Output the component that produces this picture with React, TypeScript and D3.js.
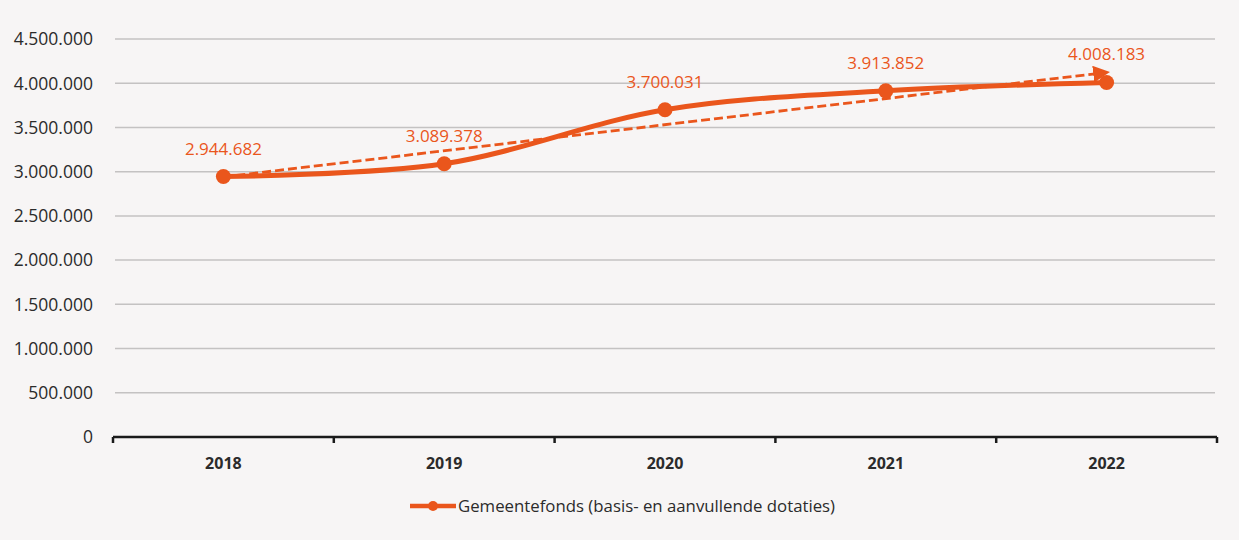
import React, { useRef, useEffect } from 'react'
import * as d3 from 'd3'

const years = ['2018', '2019', '2020', '2021', '2022']
const values = [2944682, 3089378, 3700031, 3913852, 4008183]
const yTicks = [0, 500000, 1000000, 1500000, 2000000, 2500000, 3000000, 3500000, 4000000, 4500000]
const seriesName = 'Gemeentefonds (basis- en aanvullende dotaties)'

const orange = '#EA561C'
const font = '"Open Sans", Lato, sans-serif'
const fmt = (v: number) => d3.format(',')(v).replace(/,/g, '.')

const App = () => {
  const ref = useRef<SVGSVGElement>(null)

  useEffect(() => {
    document.body.style.margin = '0'
    const width = 1239
    const height = 540
    const svg = d3.select(ref.current)
    svg.selectAll('*').remove()

    const margin = { left: 113, right: 22, top: 39, bottom: 103 }

    const x = d3.scaleBand()
      .domain(years)
      .range([margin.left, width - margin.right])
    const cx = (d: string) => (x(d) as number) + x.bandwidth() / 2
    const y = d3.scaleLinear()
      .domain([0, 4500000])
      .range([height - margin.bottom, margin.top])

    svg.append('rect').attr('width', width).attr('height', height).attr('fill', '#F7F5F5')

    // grid lines
    svg.append('g')
      .selectAll('line')
      .data(yTicks.slice(1))
      .join('line')
      .attr('x1', margin.left + 2)
      .attr('x2', width - margin.right - 2)
      .attr('y1', d => y(d))
      .attr('y2', d => y(d))
      .attr('stroke', '#C4C2C2')
      .attr('stroke-width', 1.5)

    // y labels
    svg.append('g')
      .selectAll('text')
      .data(yTicks)
      .join('text')
      .attr('x', 93)
      .attr('y', d => y(d))
      .attr('dy', '0.36em')
      .attr('text-anchor', 'end')
      .attr('font-family', font)
      .attr('font-size', 17.5)
      .attr('fill', '#2b2b2b')
      .text(d => fmt(d))

    // x axis
    const xAxisG = svg.append('g')
    xAxisG.append('line')
      .attr('x1', margin.left)
      .attr('x2', width - margin.right)
      .attr('y1', y(0))
      .attr('y2', y(0))
      .attr('stroke', '#1a1a1a')
      .attr('stroke-width', 2.5)
    const boundaries = years.map(d => x(d) as number).concat([width - margin.right])
    xAxisG.selectAll('line.tick')
      .data(boundaries)
      .join('line')
      .attr('class', 'tick')
      .attr('x1', d => d)
      .attr('x2', d => d)
      .attr('y1', y(0))
      .attr('y2', y(0) + 6)
      .attr('stroke', '#1a1a1a')
      .attr('stroke-width', 2.5)
    xAxisG.selectAll('text')
      .data(years)
      .join('text')
      .attr('x', d => cx(d))
      .attr('y', y(0) + 32)
      .attr('text-anchor', 'middle')
      .attr('font-family', font)
      .attr('font-weight', 'bold')
      .attr('font-size', 16)
      .attr('fill', '#2b2b2b')
      .text(d => d)

    // linear trendline (least squares over the series, like the spreadsheet does)
    const xs = values.map((_, i) => i)
    const mx = d3.mean(xs) as number
    const my = d3.mean(values) as number
    const slope = d3.sum(xs, (xi, i) => (xi - mx) * (values[i] - my)) / d3.sum(xs, xi => (xi - mx) ** 2)
    const icpt = my - slope * mx
    const trend = [0, xs.length - 1].map(i => ({ year: years[i], v: icpt + slope * i }))

    const defs = svg.append('defs')
    defs.append('marker')
      .attr('id', 'arrow')
      .attr('viewBox', '0 0 10 10')
      .attr('refX', 8)
      .attr('refY', 5)
      .attr('markerWidth', 6)
      .attr('markerHeight', 6)
      .attr('orient', 'auto')
      .append('path')
      .attr('d', 'M0,0 L10,5 L0,10 z')
      .attr('fill', orange)

    // smoothed series line
    const line = d3.line<number>()
      .x((_, i) => cx(years[i]))
      .y(d => y(d))
      .curve(d3.curveCardinal.tension(0))
    svg.append('path')
      .attr('d', line(values))
      .attr('fill', 'none')
      .attr('stroke', orange)
      .attr('stroke-width', 5)
      .attr('stroke-linecap', 'round')

    svg.append('line')
      .attr('x1', cx(trend[0].year))
      .attr('y1', y(trend[0].v))
      .attr('x2', cx(trend[1].year))
      .attr('y2', y(trend[1].v))
      .attr('stroke', orange)
      .attr('stroke-width', 2.8)
      .attr('stroke-dasharray', '9,4')
      .attr('marker-end', 'url(#arrow)')

    svg.append('g')
      .selectAll('circle')
      .data(values)
      .join('circle')
      .attr('cx', (_, i) => cx(years[i]))
      .attr('cy', d => y(d))
      .attr('r', 7.5)
      .attr('fill', orange)

    svg.append('g')
      .selectAll('text')
      .data(values)
      .join('text')
      .attr('x', (_, i) => cx(years[i]))
      .attr('y', d => y(d) - 22)
      .attr('text-anchor', 'middle')
      .attr('font-family', font)
      .attr('font-size', 17)
      .attr('fill', orange)
      .text(d => fmt(d))

    // legend
    const lg = svg.append('g').attr('transform', 'translate(410,506)')
    lg.append('line')
      .attr('x1', 0).attr('x2', 46).attr('y1', 0).attr('y2', 0)
      .attr('stroke', orange).attr('stroke-width', 4.5)
    lg.append('circle').attr('cx', 23).attr('cy', 0).attr('r', 5).attr('fill', orange)
    lg.append('text')
      .attr('x', 48)
      .attr('y', 0)
      .attr('dy', '0.36em')
      .attr('font-family', font)
      .attr('font-size', 16.8)
      .attr('fill', '#2b2b2b')
      .text(seriesName)
  }, [])

  return (
    <div>
      <svg ref={ref} width={1239} height={540} style={{ display: 'block' }} />
    </div>
  )
}

export default App
